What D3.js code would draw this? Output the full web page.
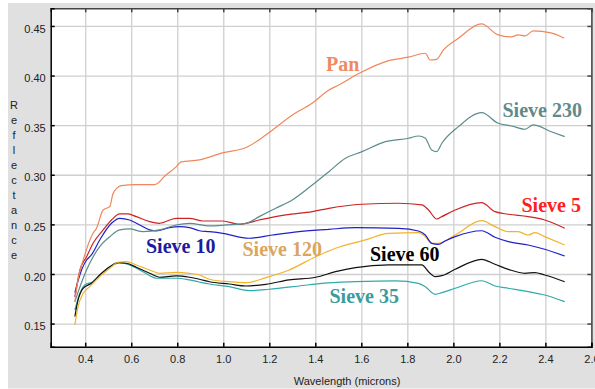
<!DOCTYPE html>
<html>
<head>
<meta charset="utf-8">
<script src="https://cdn.jsdelivr.net/npm/d3@7"></script>
<style>
  html, body { margin: 0; padding: 0; background: #fff; }
  svg { display: block; }
  .tick text { font-family: "Liberation Sans", Arial, sans-serif; font-size: 11px; fill: #222; }
</style>
</head>
<body>
<div id="chart"></div>
<script>
/***********************************************/
/* Spectra: [micron, refl] */
/***********************************************/
const pan = [
  [0.355, 0.172], [0.37, 0.196], [0.391, 0.214], [0.434, 0.241], [0.449, 0.246], [0.478, 0.2645],
  [0.507, 0.268], [0.521, 0.281], [0.557, 0.289], [0.622, 0.290], [0.702, 0.290], [0.752, 0.300],
  [0.795, 0.308], [0.817, 0.313], [0.896, 0.315], [0.996, 0.322], [1.104, 0.328], [1.185, 0.340],
  [1.299, 0.360], [1.386, 0.372], [1.459, 0.3855], [1.502, 0.3905], [1.589, 0.402], [1.719, 0.415],
  [1.805, 0.4185], [1.878, 0.4225], [1.899, 0.4157], [1.927, 0.4164], [1.957, 0.4258], [2.022, 0.4376],
  [2.122, 0.452], [2.195, 0.441], [2.251, 0.439], [2.282, 0.441], [2.312, 0.440], [2.347, 0.445],
  [2.424, 0.443], [2.482, 0.4376]
];
const sieve230 = [
  [0.355, 0.172], [0.377, 0.187], [0.420, 0.211], [0.463, 0.2275], [0.507, 0.2376], [0.550, 0.2444],
  [0.593, 0.2454], [0.651, 0.2426], [0.723, 0.2444], [0.795, 0.2494], [0.853, 0.2511], [0.940, 0.2484],
  [1.012, 0.2494], [1.098, 0.2511], [1.156, 0.2578], [1.228, 0.2662], [1.300, 0.2746], [1.387, 0.2897],
  [1.459, 0.3031], [1.531, 0.3166], [1.603, 0.3233], [1.705, 0.3334], [1.805, 0.3368], [1.849, 0.3391],
  [1.878, 0.3368], [1.906, 0.325], [1.928, 0.3233], [1.950, 0.3318], [2.022, 0.3485], [2.123, 0.3626],
  [2.195, 0.3519], [2.253, 0.3492], [2.311, 0.3459], [2.347, 0.3502], [2.426, 0.3434], [2.484, 0.3384]
];
const sieve5 = [
  [0.355, 0.177], [0.377, 0.204], [0.406, 0.2174], [0.434, 0.231], [0.478, 0.2444], [0.514, 0.2544],
  [0.550, 0.2605], [0.586, 0.2605], [0.622, 0.2578], [0.680, 0.2527], [0.723, 0.2511], [0.795, 0.2561],
  [0.853, 0.2561], [0.911, 0.2534], [0.997, 0.2534], [1.070, 0.2501], [1.156, 0.2544], [1.272, 0.2595],
  [1.387, 0.2628], [1.459, 0.2662], [1.603, 0.2703], [1.762, 0.2713], [1.863, 0.2696], [1.892, 0.2645],
  [1.928, 0.2554], [1.950, 0.2578], [2.008, 0.2645], [2.123, 0.2719], [2.181, 0.2628], [2.239, 0.2602],
  [2.325, 0.2578], [2.397, 0.2544], [2.484, 0.2461]
];
const sieve10 = [
  [0.355, 0.1812], [0.384, 0.204], [0.406, 0.2141], [0.427, 0.2192], [0.463, 0.2343], [0.514, 0.2511],
  [0.550, 0.2561], [0.593, 0.2544], [0.637, 0.2494], [0.680, 0.2444], [0.709, 0.2433], [0.766, 0.2467],
  [0.810, 0.2477], [0.853, 0.2467], [0.896, 0.2436], [0.940, 0.2426], [0.997, 0.2410], [1.112, 0.2360],
  [1.214, 0.2393], [1.329, 0.2426], [1.459, 0.2450], [1.575, 0.2467], [1.762, 0.2460], [1.848, 0.2433],
  [1.878, 0.2393], [1.906, 0.2309], [1.935, 0.2299], [1.964, 0.2333], [2.008, 0.2376], [2.123, 0.2436],
  [2.181, 0.237], [2.239, 0.2326], [2.325, 0.2292], [2.397, 0.2249], [2.484, 0.2181]
];
const sieve120 = [
  [0.355, 0.1486], [0.369, 0.167], [0.391, 0.1805], [0.420, 0.1872], [0.463, 0.1973], [0.507, 0.2057],
  [0.543, 0.2118], [0.579, 0.2124], [0.622, 0.2091], [0.680, 0.204], [0.723, 0.2007], [0.795, 0.2017],
  [0.853, 0.2007], [0.896, 0.199], [0.940, 0.1947], [1.026, 0.1922], [1.098, 0.1912], [1.185, 0.1963],
  [1.286, 0.204], [1.402, 0.2174], [1.488, 0.2259], [1.618, 0.2343], [1.719, 0.241], [1.848, 0.2416],
  [1.878, 0.2376], [1.906, 0.2309], [1.935, 0.2309], [2.008, 0.2393], [2.123, 0.2537], [2.181, 0.2477],
  [2.239, 0.2426], [2.282, 0.2426], [2.325, 0.2393], [2.354, 0.2416], [2.397, 0.2376], [2.484, 0.2292]
];
const sieve60 = [
  [0.355, 0.157], [0.369, 0.1738], [0.391, 0.1856], [0.427, 0.1906], [0.463, 0.199], [0.507, 0.2074],
  [0.543, 0.2114], [0.579, 0.2108], [0.622, 0.2068], [0.680, 0.2007], [0.723, 0.1967], [0.795, 0.198],
  [0.853, 0.1967], [0.896, 0.1947], [0.940, 0.1922], [1.026, 0.1899], [1.098, 0.1879], [1.185, 0.1896],
  [1.286, 0.194], [1.402, 0.1967], [1.488, 0.2023], [1.575, 0.2064], [1.719, 0.2091], [1.863, 0.2091],
  [1.892, 0.2023], [1.921, 0.1973], [1.950, 0.1983], [2.008, 0.2047], [2.123, 0.2148], [2.181, 0.2098],
  [2.239, 0.2047], [2.311, 0.2007], [2.354, 0.2014], [2.397, 0.199], [2.484, 0.1922]
];
const sieve35 = [
  [0.355, 0.1637], [0.377, 0.1805], [0.398, 0.1889], [0.434, 0.1922], [0.478, 0.2023], [0.521, 0.2091],
  [0.550, 0.2114], [0.593, 0.2091], [0.651, 0.2023], [0.709, 0.1957], [0.795, 0.1957], [0.853, 0.194],
  [0.896, 0.1919], [0.940, 0.1899], [1.026, 0.1872], [1.113, 0.1832], [1.199, 0.1846], [1.329, 0.1879],
  [1.430, 0.1906], [1.575, 0.1922], [1.748, 0.193], [1.848, 0.1906], [1.878, 0.1872], [1.921, 0.1795],
  [1.950, 0.1812], [2.008, 0.1856], [2.123, 0.1932], [2.181, 0.1879], [2.239, 0.1856], [2.325, 0.1822],
  [2.397, 0.1788], [2.484, 0.1721]
];

const seriesNames = ["Pan", "Sieve 230", "Sieve 5", "Sieve 10", "Sieve 120", "Sieve 60", "Sieve 35"];
const xTicks = [0.4, 0.6, 0.8, 1.0, 1.2, 1.4, 1.6, 1.8, 2.0, 2.2, 2.4, 2.6];
const yTicks = [0.15, 0.20, 0.25, 0.30, 0.35, 0.40, 0.45];

// line colour, label colour, label spot in pixels (left edge, baseline)
const series = [
  { name: seriesNames[0], values: pan,      line: "#f0875c", label: "#ef8a62", pos: [326, 70.5] },
  { name: seriesNames[1], values: sieve230, line: "#5b8c8c", label: "#618a8a", pos: [502.5, 117] },
  { name: seriesNames[2], values: sieve5,   line: "#cc2424", label: "#ff1f1f", pos: [521.5, 211.5] },
  { name: seriesNames[3], values: sieve10,  line: "#2020c8", label: "#1c1c9c", pos: [146, 252.5] },
  { name: seriesNames[4], values: sieve120, line: "#f2b328", label: "#dba65c", pos: [242.5, 256] },
  { name: seriesNames[5], values: sieve60,  line: "#111111", label: "#000000", pos: [370, 260.5] },
  { name: seriesNames[6], values: sieve35,  line: "#2eaaaa", label: "#3c9c9c", pos: [329.5, 303] }
];

const W = 595, H = 389;
const plot = { left: 50.7, right: 591.4, top: 8.3, bottom: 346.7 };

const svg = d3.select("#chart").append("svg")
    .attr("width", W)
    .attr("height", H);

// grey panel behind everything
svg.append("rect")
    .attr("x", 8).attr("y", 3)
    .attr("width", W - 8).attr("height", 385.5)
    .attr("fill", "#e0e0e0");

svg.append("rect")
    .attr("x", plot.left).attr("y", plot.top)
    .attr("width", plot.right - plot.left).attr("height", plot.bottom - plot.top)
    .attr("fill", "#fff");

const xScale = d3.scaleLinear().domain([0.25, 2.6]).range([plot.left, plot.right]);
const yScale = d3.scaleLinear().domain([0.1267, 0.4678]).range([plot.bottom, plot.top]);

/* grid */
svg.append("g")
    .attr("transform", `translate(0,${plot.bottom})`)
    .call(d3.axisBottom(xScale).tickValues(xTicks).tickSize(-(plot.bottom - plot.top)).tickFormat(""))
    .call(g => g.select(".domain").remove())
    .call(g => g.selectAll("line").attr("stroke", "#cfcfcf").attr("stroke-width", 1.3));

svg.append("g")
    .attr("transform", `translate(${plot.left},0)`)
    .call(d3.axisLeft(yScale).tickValues(yTicks).tickSize(-(plot.right - plot.left)).tickFormat(""))
    .call(g => g.select(".domain").remove())
    .call(g => g.selectAll("line").attr("stroke", "#cfcfcf").attr("stroke-width", 1.3));

/* curves */
const line = d3.line()
    .x(d => xScale(d[0]))
    .y(d => yScale(d[1]))
    .curve(d3.curveMonotoneX);

svg.append("g")
    .selectAll("path")
    .data(series.slice().reverse())
    .join("path")
        .attr("d", d => line(d.values))
        .attr("fill", "none")
        .attr("stroke", d => d.line)
        .attr("stroke-width", 1.2);

/* frame: top and right borders with inward ticks */
svg.append("g")
    .attr("transform", `translate(0,${plot.top})`)
    .call(d3.axisTop(xScale).tickValues(xTicks).tickSize(-4).tickFormat(""))
    .call(g => g.selectAll("path, line").attr("stroke", "#444").attr("stroke-width", 1.5));

svg.append("g")
    .attr("transform", `translate(${plot.right},0)`)
    .call(d3.axisRight(yScale).tickValues(yTicks).tickSize(-4).tickFormat(""))
    .call(g => g.selectAll("path, line").attr("stroke", "#444").attr("stroke-width", 1.5));

/* real axes */
svg.append("g")
    .attr("transform", `translate(0,${plot.bottom})`)
    .call(d3.axisBottom(xScale).tickValues(xTicks).tickSize(-4).tickPadding(9).tickFormat(d3.format(".1f")))
    .call(g => g.selectAll("path, line").attr("stroke", "#000").attr("stroke-width", 1.5));

svg.append("g")
    .attr("transform", `translate(${plot.left},0)`)
    .call(d3.axisLeft(yScale).tickValues(yTicks).tickSize(-4).tickPadding(5).tickFormat(d3.format(".2f")))
    .call(g => g.selectAll("path, line").attr("stroke", "#000").attr("stroke-width", 1.5))
    .call(g => g.selectAll("text").attr("dy", "0.55em"));

/* axis titles */
svg.append("text")
    .attr("x", (plot.left + plot.right) / 2 + 26)
    .attr("y", 385)
    .attr("text-anchor", "middle")
    .style("font-family", "Liberation Sans, Arial, sans-serif")
    .style("font-size", "11px")
    .attr("fill", "#222")
    .text("Wavelength (microns)");

svg.append("g")
    .selectAll("text")
    .data("Reflectance".split(""))
    .join("text")
        .attr("x", 14)
        .attr("y", (d, i) => 109 + i * 15)
        .attr("text-anchor", "middle")
        .style("font-family", "Liberation Sans, Arial, sans-serif")
        .style("font-size", "11px")
        .attr("fill", "#222")
        .text(d => d);

/* in-plot series labels */
svg.append("g")
    .selectAll("text")
    .data(series)
    .join("text")
        .attr("x", d => d.pos[0])
        .attr("y", d => d.pos[1])
        .style("font-family", "Liberation Serif, Times New Roman, serif")
        .style("font-weight", "bold")
        .style("font-size", "20px")
        .attr("fill", d => d.label)
        .text(d => d.name);
</script>
</body>
</html>
